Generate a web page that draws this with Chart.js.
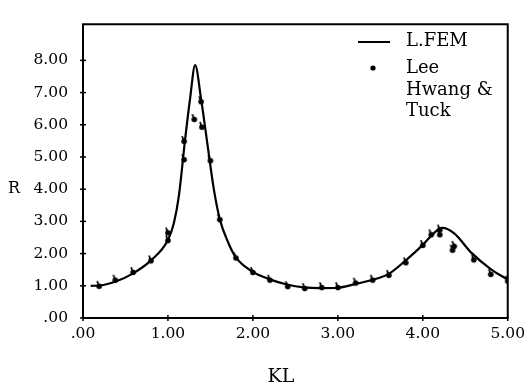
<!DOCTYPE html>
<html>
<head>
<meta charset="utf-8">
<script src="https://cdn.jsdelivr.net/npm/chart.js@4.4.1/dist/chart.umd.min.js"></script>
<style>
html,body{margin:0;padding:0;background:#fff;}
#wrap{width:532px;height:387px;position:relative;}
</style>
</head>
<body>
<div id="wrap"><canvas id="c" width="532" height="387"></canvas></div>
<script>
// L.FEM curve (KL, R)
const femKL = [0.09,0.2,0.4,0.58,0.8,1.0,1.07,1.13,1.2,1.26,1.32,1.39,1.47,1.54,1.61,1.7,1.8,2.0,2.2,2.4,2.6,2.8,3.0,3.2,3.4,3.6,3.8,4.0,4.14,4.23,4.37,4.57,4.8,5.0];
const femR  = [1.00,1.01,1.15,1.37,1.79,2.42,2.95,3.82,5.5,6.8,7.85,6.8,5.3,4.0,3.07,2.4,1.88,1.43,1.20,1.04,0.95,0.93,0.94,1.05,1.18,1.37,1.79,2.27,2.66,2.80,2.63,2.03,1.52,1.19];
// Lee / Hwang & Tuck measured points
const leeKL = [0.19,0.38,0.59,0.80,1.0,1.0,1.19,1.19,1.31,1.39,1.40,1.50,1.61,1.80,2.0,2.2,2.41,2.61,2.81,3.0,3.21,3.41,3.6,3.8,4.0,4.1,4.2,4.2,4.35,4.37,4.6,4.8,5.0];
const leeR  = [1.00,1.19,1.43,1.79,2.42,2.66,4.93,5.5,6.18,6.73,5.94,4.9,3.07,1.88,1.43,1.19,0.99,0.93,0.96,0.96,1.10,1.19,1.34,1.73,2.27,2.60,2.75,2.60,2.12,2.24,1.82,1.37,1.16];
const xTicks = [0,1,2,3,4,5];
const yTicks = [0,1,2,3,4,5,6,7,8];
const seriesNames = ['L.FEM','Lee','Hwang &','Tuck'];

const fmt = v => { const s = Number(v).toFixed(2); return s.startsWith('0') ? s.slice(1) : s; };
const FONT = '"DejaVu Serif", "Liberation Serif", serif';

// marker: dot with small stroke
const mk = document.createElement('canvas');
mk.width = 12; mk.height = 12;
(function(){
  const g = mk.getContext('2d');
  g.fillStyle = '#000'; g.strokeStyle = '#000'; g.lineWidth = 1.8;
  g.beginPath(); g.arc(6,6.5,2.8,0,Math.PI*2); g.fill();
  g.beginPath(); g.moveTo(6,6.5); g.lineTo(4,1.2); g.stroke();
})();

const deco = {
  id: 'deco',
  afterDraw(chart) {
    const ctx = chart.ctx, a = chart.chartArea;
    const xs = chart.scales.x, ys = chart.scales.y;
    ctx.save();
    ctx.strokeStyle = '#000'; ctx.lineWidth = 2;
    ctx.beginPath();
    ctx.moveTo(a.left, a.bottom); ctx.lineTo(a.left, a.top); ctx.lineTo(a.right, a.top); ctx.lineTo(a.right, a.bottom); ctx.lineTo(a.left, a.bottom);
    ctx.stroke();
    ctx.lineWidth = 1.5;
    yTicks.forEach(v => { const y = ys.getPixelForValue(v); ctx.beginPath(); ctx.moveTo(a.left-3,y); ctx.lineTo(a.left+3,y); ctx.stroke(); });
    xTicks.forEach(v => { const x = xs.getPixelForValue(v); ctx.beginPath(); ctx.moveTo(x,a.bottom-3); ctx.lineTo(x,a.bottom+3); ctx.stroke(); });
    ctx.fillStyle = '#000';
    ctx.textBaseline = 'middle';
    ctx.font = '16px ' + FONT;
    ctx.textAlign = 'left';
    ctx.fillText('R', 8, ys.getPixelForValue(4));
    ctx.font = '19px ' + FONT;
    ctx.textAlign = 'center';
    ctx.fillText('KL', 281, 377);
    // legend
    ctx.font = '18px ' + FONT;
    ctx.textAlign = 'left';
    ctx.lineWidth = 2;
    ctx.beginPath(); ctx.moveTo(358,42); ctx.lineTo(390,42); ctx.stroke();
    ctx.fillText(seriesNames[0], 406, 41);
    ctx.beginPath(); ctx.arc(373,68,2.6,0,Math.PI*2); ctx.fill();
    ctx.fillText(seriesNames[1], 406, 68);
    ctx.fillText(seriesNames[2], 406, 90);
    ctx.fillText(seriesNames[3], 406, 111);
    ctx.restore();
  }
};

new Chart(document.getElementById('c'), {
  type: 'scatter',
  data: {
    datasets: [
      {
        label: 'L.FEM', type: 'line',
        data: femKL.map((x,i)=>({x, y: femR[i]})),
        borderColor: '#000', borderWidth: 2.2, pointRadius: 0, fill: false,
        cubicInterpolationMode: 'monotone'
      },
      {
        label: 'Lee',
        data: leeKL.map((x,i)=>({x, y: leeR[i]})),
        pointStyle: mk, pointRadius: 4, backgroundColor: '#000', borderColor: '#000'
      }
    ]
  },
  options: {
    responsive: false, animation: false,
    layout: { padding: { top: 12, right: 18, left: 0, bottom: 0 } },
    plugins: { legend: { display: false }, tooltip: { enabled: false } },
    scales: {
      x: {
        type: 'linear', min: 0, max: 5,
        afterBuildTicks: s => { s.ticks = xTicks.map(v => ({value: v})); },
        afterFit: s => { s.height = 69; },
        grid: { display: false, drawTicks: false },
        border: { display: false },
        ticks: { callback: v => fmt(v), color: '#000', padding: 7, maxRotation: 0, font: { family: FONT, size: 15.5 } }
      },
      y: {
        type: 'linear', min: 0, max: 9.12,
        afterBuildTicks: s => { s.ticks = yTicks.map(v => ({value: v})); },
        afterFit: s => { s.width = 83; },
        grid: { display: false, drawTicks: false },
        border: { display: false },
        ticks: { callback: v => fmt(v), color: '#000', padding: 15, font: { family: FONT, size: 15.5 } }
      }
    }
  },
  plugins: [deco]
});
</script>
</body>
</html>
